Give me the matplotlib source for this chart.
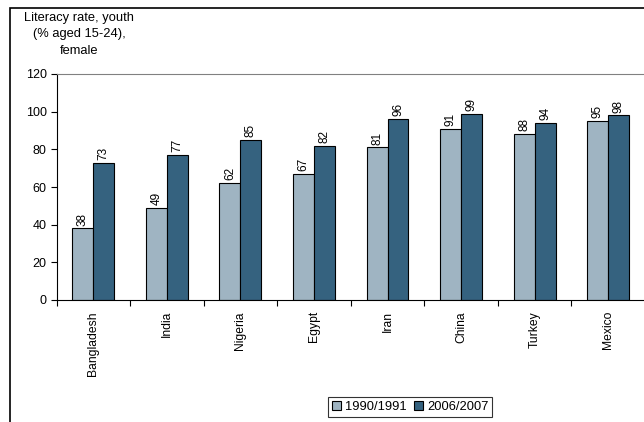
import matplotlib
matplotlib.use("Agg")
import matplotlib.pyplot as plt
from matplotlib.patches import Rectangle
import numpy as np

plt.rcParams['font.family'] = ['Liberation Sans', 'DejaVu Sans']

countries = ["Bangladesh", "India", "Nigeria", "Egypt", "Iran", "China", "Turkey", "Mexico"]
rate_1990 = [38, 49, 62, 67, 81, 91, 88, 95]
rate_2006 = [73, 77, 85, 82, 96, 99, 94, 98]
series_names = ["1990/1991", "2006/2007"]
yticks = [0, 20, 40, 60, 80, 100, 120]

light = "#9fb4c2"
dark = "#35627f"

fig = plt.figure(figsize=(6.44, 4.22), dpi=100)
W, H = 644, 422

# chart area border (runs off the right/bottom edge)
fig.patches.append(Rectangle((10 / W, -0.1), 1.2, 1 - 8 / H + 0.1,
                             transform=fig.transFigure, fill=False,
                             edgecolor="black", linewidth=1.2))

ax = fig.add_axes([56.5 / W, 1 - 300 / H, (645 - 56.5) / W, (300 - 74) / H])

x = np.arange(len(countries))
bw = 0.285
b1 = ax.bar(x - bw / 2, rate_1990, bw, color=light, edgecolor="black", linewidth=0.8)
b2 = ax.bar(x + bw / 2, rate_2006, bw, color=dark, edgecolor="black", linewidth=0.8)

for bars, vals in ((b1, rate_1990), (b2, rate_2006)):
    for b, v in zip(bars, vals):
        ax.text(b.get_x() + b.get_width() / 2, v + 1.5, str(v), rotation=90,
                ha="center", va="bottom", fontsize=8.5)

ax.set_xlim(-0.5, len(countries) - 0.5)
ax.set_ylim(0, 120)
ax.set_yticks(yticks)
ax.tick_params(axis="y", labelsize=9, length=4, width=0.8, direction="out", pad=3)

ax.set_xticks(np.arange(len(countries) + 1) - 0.5)
ax.set_xticklabels([])
ax.set_xticks(x, minor=True)
ax.set_xticklabels(countries, minor=True, rotation=90, fontsize=8.7, va="top")
ax.tick_params(axis="x", which="major", length=4, width=0.8, direction="out")
ax.tick_params(axis="x", which="minor", length=0, pad=8)

ax.spines["right"].set_visible(False)
ax.spines["top"].set_color("#808080")
ax.spines["top"].set_linewidth(0.8)
ax.spines["left"].set_linewidth(0.8)
ax.spines["bottom"].set_linewidth(0.8)

fig.text(79 / W, 1 - 12 / H, "Literacy rate, youth\n(% aged 15-24),\nfemale",
         ha="center", va="top", fontsize=9.3, linespacing=1.5)

leg = fig.legend([b1, b2], series_names, loc="center", bbox_to_anchor=(410 / W, 1 - 407 / H),
                 ncol=2, fontsize=9.3, frameon=True, fancybox=False, edgecolor="black",
                 handlelength=0.7, handleheight=0.7, handletextpad=0.3, columnspacing=0.6,
                 borderpad=0.3, borderaxespad=0)
leg.get_frame().set_linewidth(0.8)

fig.savefig("out.png", dpi=100)
